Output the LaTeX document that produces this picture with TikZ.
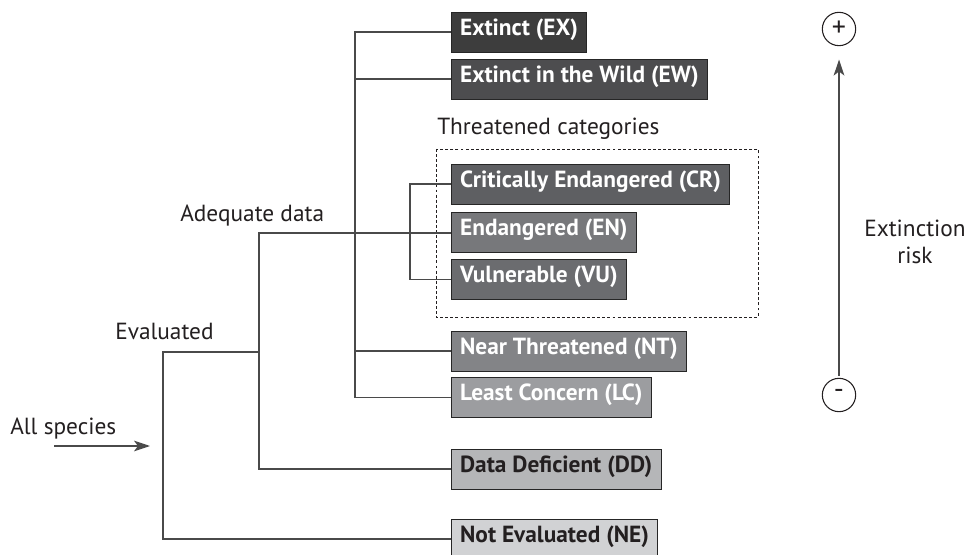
\documentclass[tikz,border=0pt]{standalone}
\usepackage{fontspec}
\setmainfont{PT Sans}
\usetikzlibrary{arrows.meta}
\definecolor{cEX}{HTML}{3D3D3D}
\definecolor{cEW}{HTML}{4D4D4F}
\definecolor{cCR}{HTML}{5E5F62}
\definecolor{cEN}{HTML}{77787B}
\definecolor{cVU}{HTML}{6B6C6F}
\definecolor{cNT}{HTML}{838487}
\definecolor{cLC}{HTML}{9C9DA0}
\definecolor{cDD}{HTML}{B5B6B8}
\definecolor{cNE}{HTML}{D1D2D4}
\definecolor{lineC}{HTML}{4A4A4A}
\definecolor{txtC}{HTML}{231F20}
\tikzset{
  catbox/.style={draw=black!85, line width=0.7pt, anchor=west, minimum height=30pt,
    inner xsep=6.5pt, inner ysep=0pt, text height=0.72em, text depth=0.2em,
    font=\fontsize{17.5pt}{21pt}\selectfont\bfseries, align=left},
  wbox/.style={catbox, text=white},
  bbox/.style={catbox, text=txtC},
  lbl/.style={font=\fontsize{17.5pt}{21pt}\selectfont, text=txtC, inner sep=0pt},
  conn/.style={draw=lineC, line width=1pt},
  arr/.style={draw=lineC, line width=1pt, -{Stealth[length=12pt,width=8pt,inset=3pt]}},
  sign/.style={circle, draw=txtC, line width=0.8pt, minimum size=25pt, inner sep=0pt,
    font=\fontsize{21pt}{24pt}\selectfont, text=txtC}
}
\begin{document}
\begin{tikzpicture}[x=0.75pt,y=-0.75pt]
\path[use as bounding box, clip] (0,0) rectangle (966,555);
\fill[white] (0,0) rectangle (966,555);

% category boxes
\node[wbox, fill=cEX] (EX) at (451,32) {Extinct (EX)};
\node[wbox, fill=cEW] (EW) at (451,79) {Extinct in the Wild (EW)};
\node[wbox, fill=cCR] (CR) at (451,184) {Critically Endangered (CR)};
\node[wbox, fill=cEN] (EN) at (451,232) {Endangered (EN)};
\node[wbox, fill=cVU] (VU) at (451,279.5) {Vulnerable (VU)};
\node[wbox, fill=cNT] (NT) at (451,351) {Near Threatened (NT)};
\node[wbox, fill=cLC] (LC) at (451,397.5) {Least Concern (LC)};
\node[bbox, fill=cDD] (DD) at (451,469) {Data Deficient (DD)};
\node[bbox, fill=cNE] (NE) at (451,539) {Not Evaluated (NE)};

% threatened frame
\node[lbl, anchor=west] (thr) at (437,129) {Threatened categories};
\draw[draw=txtC, line width=0.6pt, dash pattern=on 2.2pt off 1.6pt] (436,149) rectangle (758,317);

% labels
\node[lbl, anchor=base west] (allsp) at (10,434) {All species};
\node[lbl, anchor=base west] (evald) at (115,340) {Evaluated};
\node[lbl, anchor=base west] (adeq) at (180,222) {Adequate data};
\node[lbl, align=center] (risk) at (915,242) {Extinction\\[-1pt]risk};

% junction coordinates
\coordinate (evTop) at (163,352);
\coordinate (adTop) at (259,233);
\coordinate (v3Top) at (355,32);
\coordinate (thTop) at (410,184);
\coordinate (a0) at (54,446);
\coordinate (a1) at (150,446);

% tree connectors
\draw[conn] (NE.west) -| (evTop) -- (adTop |- evTop);
\draw[conn] (DD.west) -| (adTop) -- (EN.west |- adTop);
\draw[conn] (EX.west) -| (v3Top |- LC.west) -- (LC.west);
\draw[conn] (EW.west) -- (v3Top |- EW.west);
\draw[conn] (NT.west) -- (v3Top |- NT.west);
\draw[conn] (CR.west) -| (thTop |- VU.west) -- (VU.west);

% all species arrow
\draw[arr] (a0) -- (a1);

% extinction risk axis
\node[sign] (plus) at (839,29) {+};
\node[sign] (minus) at (839,395) {\raisebox{1pt}{-}};
\draw[arr] ([yshift=1.5pt]minus.north) -- ([yshift=-10pt]plus.south);
\end{tikzpicture}
\end{document}
